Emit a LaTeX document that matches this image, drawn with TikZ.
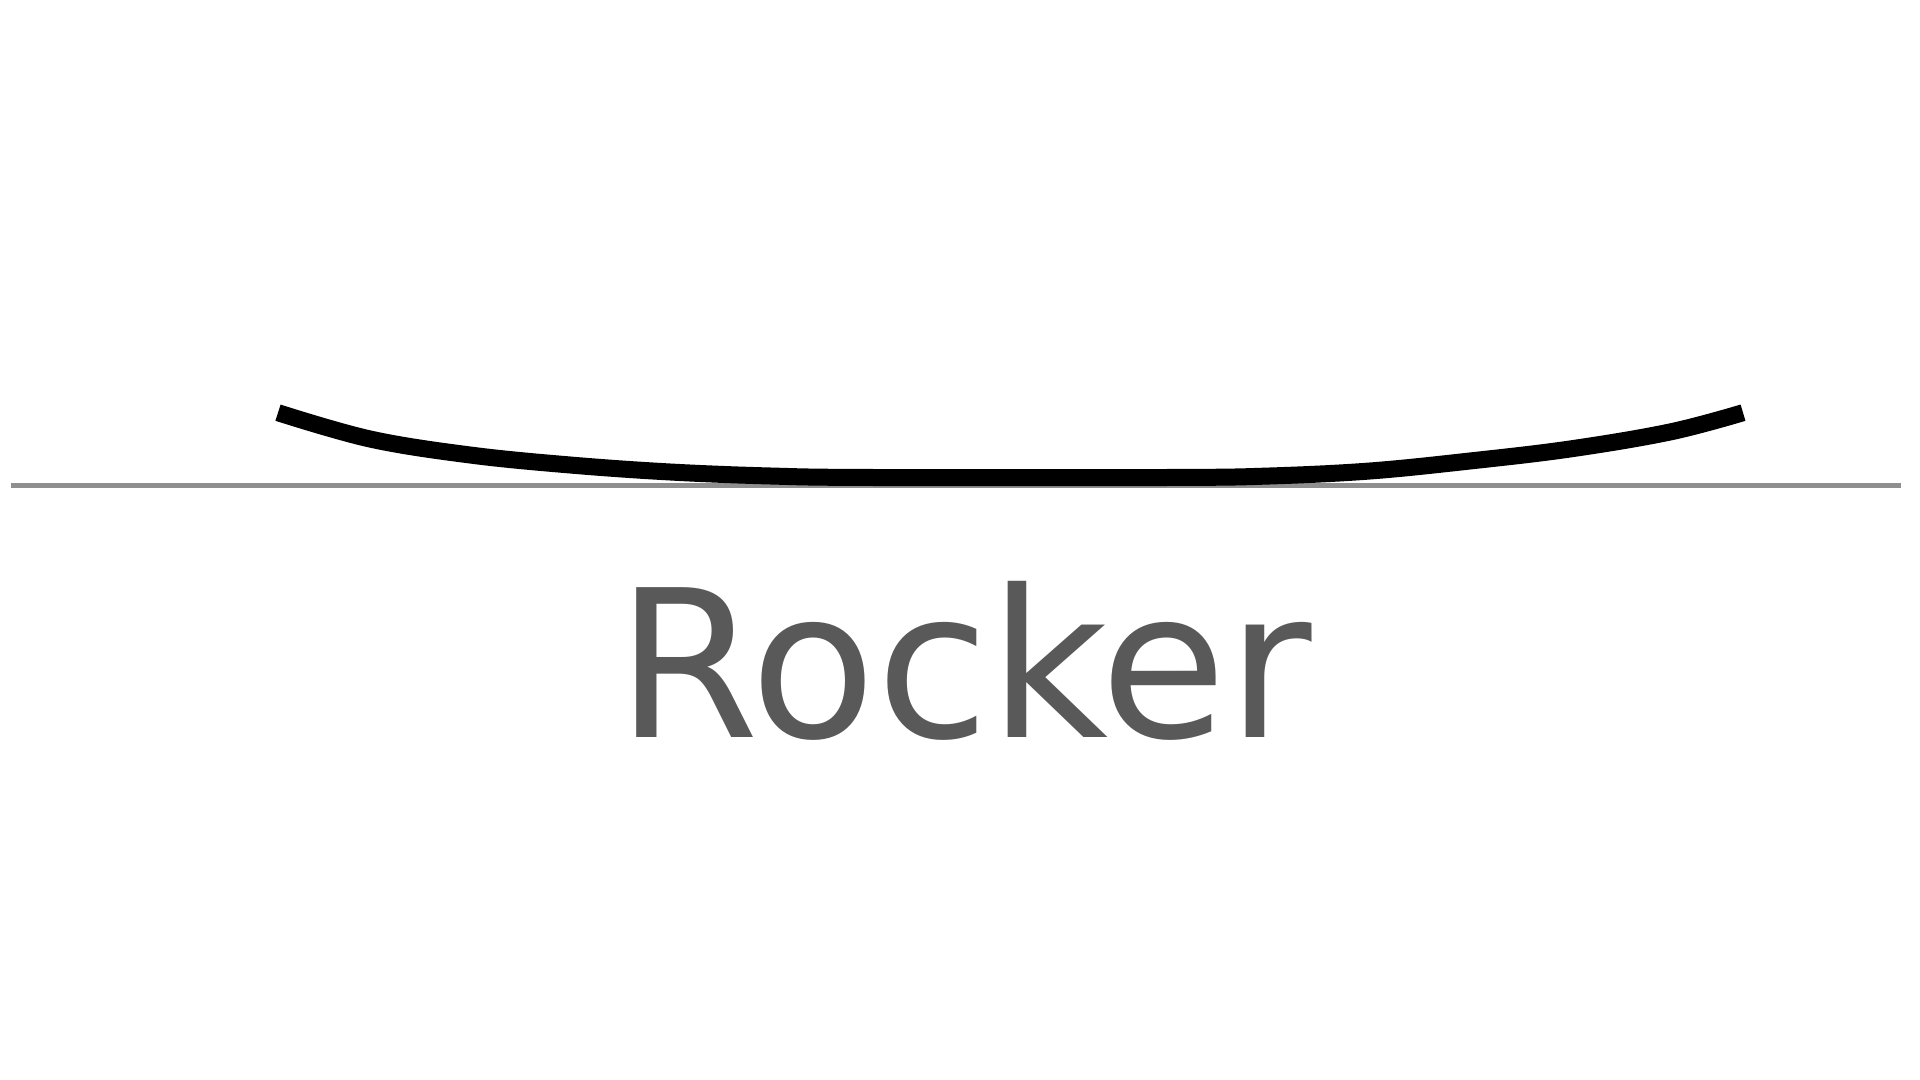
\documentclass[tikz,border=0pt]{standalone}
\usepackage{fontspec}
\setmainfont{DejaVu Sans}
\definecolor{labelgray}{HTML}{595959}
\definecolor{groundgray}{HTML}{8F8F8F}
\begin{document}
\begin{tikzpicture}[
    ground/.style={groundgray, line width=0.05cm},
    board/.style={black, line width=0.17cm, line cap=butt},
    caption/.style={labelgray, font=\fontsize{58.5}{60}\selectfont, inner sep=0pt, anchor=base}
]
    \useasboundingbox (0,0) rectangle (19.2,10.8);
    % Draw the ground line
    \draw[ground] (0.11,5.945) -- (19.01,5.945);

    % Draw the board
    \draw[board] plot[smooth, tension=0.6] coordinates {
        (2.78,6.673) (3.70,6.41) (4.70,6.25) (5.70,6.15) (6.70,6.08)
        (7.70,6.04) (8.70,6.025) (11.70,6.025) (12.70,6.04) (13.70,6.09)
        (14.70,6.19) (15.70,6.31) (16.70,6.48) (17.43,6.673)};

    % Label
    \node[caption] (rocker) at (9.64,3.42) {Rocker};
\end{tikzpicture}
\end{document}
